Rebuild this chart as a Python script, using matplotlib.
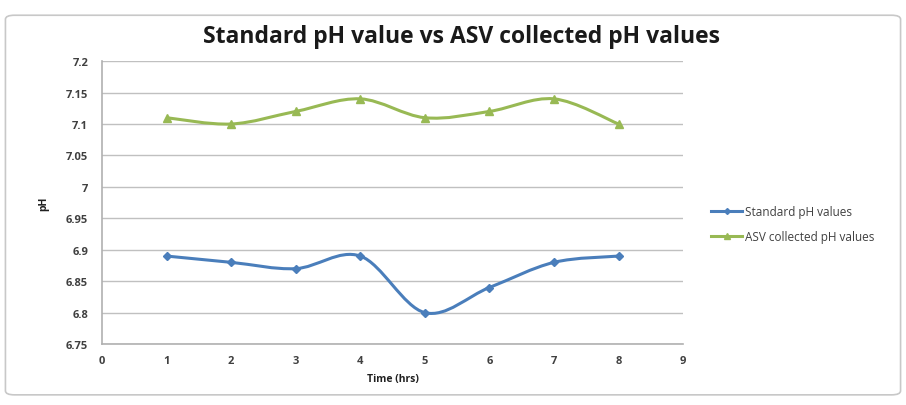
import matplotlib

matplotlib.use("Agg")
import matplotlib.pyplot as plt
import numpy as np
from matplotlib.path import Path
from matplotlib.patches import PathPatch, FancyBboxPatch

plt.rcParams["font.family"] = ["Open Sans", "DejaVu Sans"]

hours = [1, 2, 3, 4, 5, 6, 7, 8]
standard_ph = [6.89, 6.88, 6.87, 6.89, 6.80, 6.84, 6.88, 6.89]
asv_ph = [7.11, 7.10, 7.12, 7.14, 7.11, 7.12, 7.14, 7.10]
y_ticks = [6.75, 6.8, 6.85, 6.9, 6.95, 7, 7.05, 7.1, 7.15, 7.2]
y_tick_labels = ["6.75", "6.8", "6.85", "6.9", "6.95", "7", "7.05", "7.1", "7.15", "7.2"]

BLUE = "#4a7ebb"
GREEN = "#98b954"


def smooth_path(x, y, tension=1 / 6):
    # Excel-style smoothed line: Catmull-Rom segments as cubic Beziers
    x = np.asarray(x, float)
    y = np.asarray(y, float)
    px = np.concatenate([[x[0]], x, [x[-1]]])
    py = np.concatenate([[y[0]], y, [y[-1]]])
    verts = [(x[0], y[0])]
    codes = [Path.MOVETO]
    for i in range(1, len(px) - 2):
        c1 = (px[i] + (px[i + 1] - px[i - 1]) * tension, py[i] + (py[i + 1] - py[i - 1]) * tension)
        c2 = (px[i + 1] - (px[i + 2] - px[i]) * tension, py[i + 1] - (py[i + 2] - py[i]) * tension)
        verts += [c1, c2, (px[i + 1], py[i + 1])]
        codes += [Path.CURVE4] * 3
    return Path(verts, codes)


fig = plt.figure(figsize=(9.06, 4.06), dpi=100)
fig.patch.set_facecolor("white")
frame = FancyBboxPatch((0.006, 0.025), 0.988, 0.935, boxstyle="round,pad=0,rounding_size=0.01",
                       transform=fig.transFigure, facecolor="white", edgecolor="#c8c8c8",
                       linewidth=1.2, zorder=-10)
fig.patches.append(frame)

ax = fig.add_axes([0.1126, 0.150, 0.6414, 0.697])
ax.set_facecolor("none")
ax.set_xlim(0, 9)
ax.set_ylim(6.75, 7.2)
ax.set_xticks(range(0, 10))
ax.set_yticks(y_ticks)
ax.set_yticklabels(y_tick_labels)
ax.grid(axis="y", color="#c0c0c0", linewidth=1.0)
ax.set_axisbelow(True)
for side in ["top", "right"]:
    ax.spines[side].set_visible(False)
for side in ["left", "bottom"]:
    ax.spines[side].set_color("#b0b0b0")
    ax.spines[side].set_linewidth(1.2)
ax.tick_params(length=0, labelsize=8, labelcolor="#404040", pad=10)
ax.tick_params(axis="x", pad=8)
for lbl in ax.get_xticklabels() + ax.get_yticklabels():
    lbl.set_fontweight("bold")

for ys, color, marker, ms, name in [
    (standard_ph, BLUE, "D", 4, "Standard pH values"),
    (asv_ph, GREEN, "^", 6, "ASV collected pH values"),
]:
    ax.add_patch(PathPatch(smooth_path(hours, ys), facecolor="none", edgecolor=color, linewidth=2.2))
    ax.plot(hours, ys, linestyle="none", marker=marker, markersize=ms, color=color)
    ax.plot([], [], color=color, marker=marker, markersize=ms - 1, linewidth=2.2, label=name)

ax.set_xlabel("Time (hrs)", fontsize=7.5, fontweight="bold", color="#202020", labelpad=5)
ax.set_ylabel("pH", fontsize=7.5, fontweight="bold", color="#202020", labelpad=12)
fig.text(0.509, 0.91, "Standard pH value vs ASV collected pH values", fontsize=16.5,
         fontweight="bold", color="#1a1a1a", ha="center", va="center")

ax.legend(loc="center left", bbox_to_anchor=(1.03, 0.425), frameon=False, fontsize=8.5,
          handlelength=2.6, handletextpad=0.3, labelspacing=1.0, labelcolor="#404040")

fig.savefig("out.png", dpi=100)
plt.close(fig)
